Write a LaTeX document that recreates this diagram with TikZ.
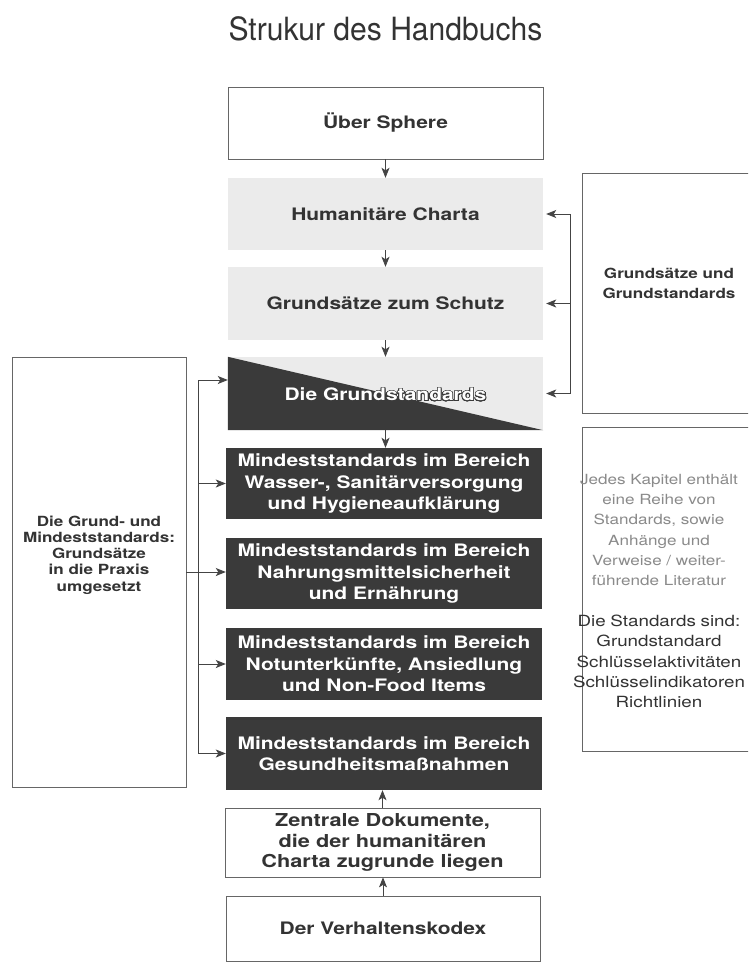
\documentclass[tikz,border=0pt]{standalone}
\usepackage{fontspec}
\setmainfont{TeX Gyre Heros}[FakeStretch=1.22]
\newfontfamily\titlefont{TeX Gyre Heros}[FakeStretch=0.94]
\usepackage{contour}
\contourlength{0.7pt}
\contournumber{32}
\usetikzlibrary{arrows.meta}
\definecolor{darkbox}{HTML}{3A3A3A}
\definecolor{lightbox}{HTML}{EBEBEB}
\definecolor{txt}{HTML}{333333}
\definecolor{linec}{HTML}{444444}
\definecolor{borderc}{HTML}{666666}
\definecolor{lighttxt}{HTML}{8A8A8A}
\tikzset{
  mainbox/.style={inner sep=0pt, minimum width=315pt, align=center,
    font=\bfseries\fontsize{17.2}{21.5}\selectfont},
  whitebox/.style={mainbox, draw=borderc, line width=0.7pt, fill=white, text=txt},
  lightbx/.style={mainbox, fill=lightbox, text=txt},
  darkbx/.style={mainbox, fill=darkbox, text=white},
  sidebox/.style={draw=borderc, line width=0.7pt, inner sep=0pt},
  arr/.style={draw=linec, line width=0.9pt, -{Stealth[length=10pt,width=8pt,inset=2.5pt]}},
  conn/.style={draw=linec, line width=0.9pt},
}
\begin{document}
\begin{tikzpicture}[x=1pt,y=-1pt]
\useasboundingbox (0,0) rectangle (748,962);
\clip (0,0) rectangle (748,962);
\fill[white] (0,0) rectangle (748,962);

% title
\node[anchor=base, text=txt, font=\titlefont\fontsize{32}{36}\selectfont, inner sep=0pt] (title) at (385.5,40) {Strukur des Handbuchs};

% main column
\node[whitebox, minimum height=72pt] (ueber) at (385.5,123) {Über Sphere};
\node[lightbx, minimum height=72pt] (charta) at (385.5,214) {Humanitäre Charta};
\node[lightbx, minimum height=73pt] (schutz) at (385.5,303.5) {Grundsätze zum Schutz};
\node[lightbx, minimum height=73pt] (grund) at (385.5,393.5) {};
\fill[darkbox] (grund.north west) -- (grund.south west) -- (grund.south east) -- cycle;
\node[mainbox, text=white] (grundtxt) at (385.5,395) {\contour{darkbox}{Die Grundstandards}};

\node[darkbx, minimum width=316pt, minimum height=71pt] (m1) at (384,483.5) {Mindeststandards im Bereich\\Wasser-, Sanitärversorgung\\und Hygieneaufklärung};
\node[darkbx, minimum width=316pt, minimum height=71pt] (m2) at (384,573.5) {Mindeststandards im Bereich\\Nahrungsmittelsicherheit\\und Ernährung};
\node[darkbx, minimum width=316pt, minimum height=72pt] (m3) at (384,664) {Mindeststandards im Bereich\\Notunterkünfte, Ansiedlung\\und Non-Food Items};
\node[darkbx, minimum width=316pt, minimum height=73pt] (m4) at (384,753.5) {Mindeststandards im Bereich\\Gesundheitsmaßnahmen};

\node[whitebox, minimum height=69pt, font=\bfseries\fontsize{17.8}{20.5}\selectfont] (zentral) at (382.5,842.5) {Zentrale Dokumente,\\die der humanitären\\Charta zugrunde liegen};
\node[whitebox, minimum width=314pt, minimum height=65pt] (kodex) at (383,928.5) {\raisebox{-6.5pt}{Der Verhaltenskodex}};

% vertical arrows
\draw[arr] (ueber.south) -- (charta.north);
\draw[arr] (charta.south) -- (schutz.north);
\draw[arr] (schutz.south) -- (grund.north);
\draw[arr] (grund.south) -- (grund.south |- m1.north);
\draw[arr] (zentral.north) -- (zentral.north |- m4.south);
\draw[arr] (kodex.north) -- (kodex.north |- zentral.south);

% right boxes
\node[sidebox, minimum width=170pt, minimum height=240pt] (rbox1) at (667,293) {};
\node[text=txt, font=\bfseries\fontsize{14}{20}\selectfont, align=center, inner sep=0pt] (rtext1) at (669,283) {Grundsätze und\\Grundstandards};
\node[sidebox, minimum width=170pt, minimum height=324pt] (rbox2) at (667,589) {};
\node[text=lighttxt, text width=200pt, font=\fontsize{14}{20.3}\selectfont, align=center, inner sep=0pt] (rtext2) at (659,591) {Jedes Kapitel enthält\\eine Reihe von\\Standards, sowie\\Anhänge und\\Verweise / weiter-\\führende Literatur\\[20.3pt]
\color{txt}\fontsize{15.4}{20.3}\selectfont Die Standards sind:\\Grundstandard\\Schlüsselaktivitäten\\Schlüsselindikatoren\\Richtlinien};

% right bracket
\coordinate (rb) at (570,214);
\draw[conn] (rb) -- (rb |- grund.east);
\draw[arr] (rb) -- ([xshift=3pt]charta.east);
\draw[arr] (rb |- schutz.east) -- ([xshift=3pt]schutz.east);
\draw[arr] (rb |- grund.east) -- ([xshift=3pt]grund.east);

% left box
\node[sidebox, minimum width=174pt, minimum height=430pt] (lbox) at (99,572) {};
\node[text=txt, font=\bfseries\fontsize{14}{16.2}\selectfont, align=center, inner sep=0pt] (ltext) at (99,555) {Die Grund- und\\Mindeststandards:\\Grundsätze\\in die Praxis\\umgesetzt};

% left bracket
\coordinate (lb) at (198,380);
\draw[conn] (lb) -- (lb |- m4.west);
\draw[arr] (lb) -- (grund.west |- lb);
\draw[arr] (lb |- m1.west) -- (m1.west);
\draw[arr] (lbox.east) -- (lbox.east -| m2.west);
\draw[arr] (lb |- m3.west) -- (m3.west);
\draw[arr] (lb |- m4.west) -- (m4.west);
\end{tikzpicture}
\end{document}
